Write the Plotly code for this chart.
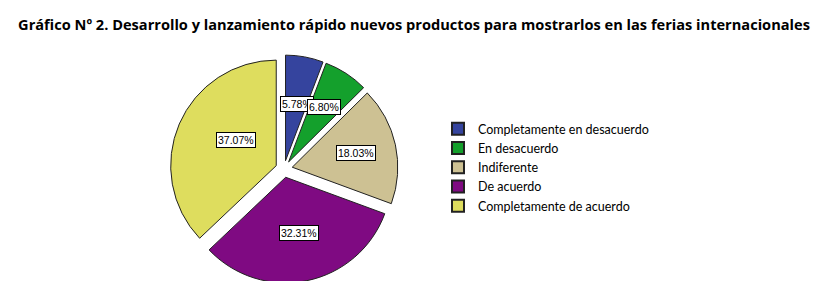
import math
import plotly.graph_objects as go

categories = ["Completamente en desacuerdo", "En desacuerdo", "Indiferente",
              "De acuerdo", "Completamente de acuerdo"]
percentages = [5.78, 6.80, 18.03, 32.31, 37.07]
colors = ["#35449e", "#14a02c", "#cdc193", "#7f0a82", "#dedd5e"]
title_text = "Gráfico Nº 2. Desarrollo y lanzamiento rápido nuevos productos para mostrarlos en las ferias internacionales"

W, H = 833, 281
pull = 0.08
dom_x = [(276 - 114) / W, (276 + 114) / W]
dom_y = [(281 - 276) / H, (281 - 46) / H]

fig = go.Figure()
fig.add_trace(go.Pie(
    labels=categories,
    values=percentages,
    marker=dict(colors=colors, line=dict(color="#222222", width=1)),
    sort=False,
    direction="clockwise",
    rotation=0,
    pull=[pull] * len(percentages),
    textinfo="none",
    hoverinfo="label+percent",
    domain=dict(x=dom_x, y=dom_y),
    showlegend=True,
))

# label boxes placed at slice mid-angles derived from the data
cx = (dom_x[0] + dom_x[1]) / 2
cy = (dom_y[0] + dom_y[1]) / 2
wpx = (dom_x[1] - dom_x[0]) * W
hpx = (dom_y[1] - dom_y[0]) * H
r = min(wpx, hpx) / (2 * (1 + pull))
total = sum(percentages)
cum = 0
for v in percentages:
    mid = (cum + v / 2) / total * 2 * math.pi
    cum += v
    rr = (0.62 + pull) * r
    fig.add_annotation(
        x=cx + rr * math.sin(mid) / W,
        y=cy + rr * math.cos(mid) / H,
        xref="paper", yref="paper",
        text=f"{v:.2f}%", showarrow=False,
        font=dict(family="Arial, Liberation Sans", size=10.5, color="black"),
        bgcolor="white", bordercolor="black", borderwidth=1, borderpad=1,
    )

fig.update_layout(
    width=W, height=H,
    margin=dict(l=0, r=0, t=0, b=0),
    paper_bgcolor="white", plot_bgcolor="white",
    title=dict(text=f"<b>{title_text}</b>", x=406 / W, xanchor="center",
               y=1 - 17 / H, yanchor="middle",
               font=dict(family="Open Sans", size=14.6, color="black")),
    legend=dict(x=430 / W, y=1 - 106 / H, xanchor="left", yanchor="top",
                font=dict(family="Lato", size=12.5, color="black"),
                itemsizing="constant", tracegroupgap=0),
)

fig.write_html("out.html")
